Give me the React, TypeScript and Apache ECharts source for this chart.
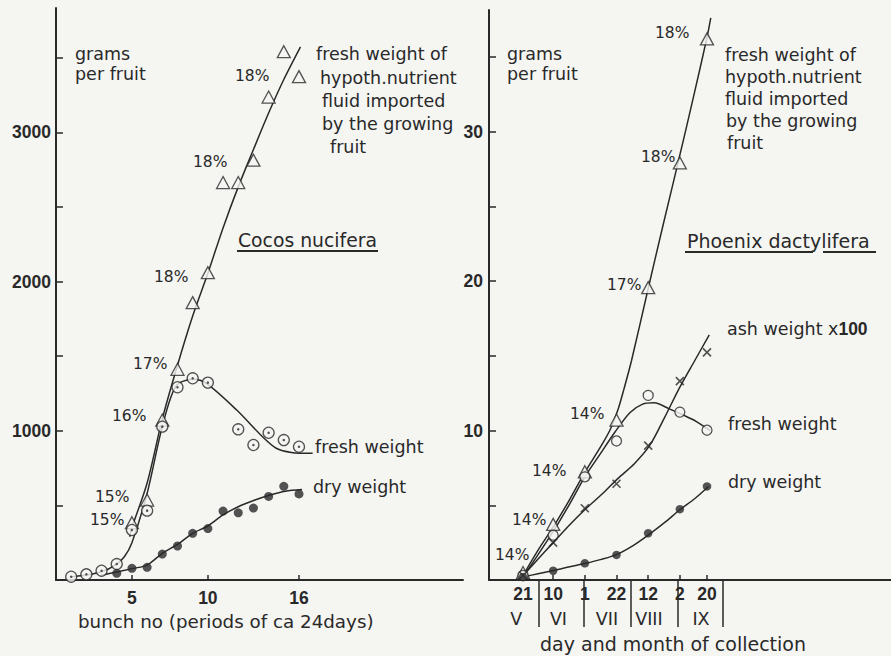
import React, { useEffect, useRef } from "react";
import * as echarts from "echarts";

// ---------- Cocos nucifera (left panel), x = bunch no, y = grams per fruit ----------
const cocosFluid: number[][] = [
  [5, 384], [6, 536], [7, 1072], [8, 1412], [9, 1859], [10, 2060],
  [11, 2664], [12, 2664], [13, 2814], [14, 3237], [15, 3541], [16, 3374],
];
const cocosFresh: number[][] = [
  [1, 22], [2, 38], [3, 62], [4, 107], [5, 335], [6, 465], [7, 1028], [8, 1292],
  [9, 1352], [10, 1323], [12, 1010], [13, 905], [14, 987], [15, 938], [16, 893],
];
const cocosDry: number[][] = [
  [4, 45], [5, 78], [6, 85], [7, 174], [8, 228], [9, 313], [10, 345],
  [11, 462], [12, 450], [13, 482], [14, 560], [15, 628], [16, 577],
];
// fitted curves drawn by the author
const cocosFluidCurve: number[][] = [
  [4.85, 290], [5, 350], [6, 650], [7, 1080], [8, 1440], [9, 1770], [10, 2056], [11, 2360],
  [12, 2635], [13, 2885], [14, 3130], [15, 3355], [16.1, 3574],
];
const cocosFreshCurve: number[][] = [
  [1, 22], [2, 33], [3, 55], [3.9, 100], [4.5, 156], [5, 250], [6, 581], [7, 1028],
  [7.9, 1300], [9, 1345], [9.9, 1318], [11.9, 1139], [13.6, 960], [14.5, 883], [15.5, 855], [16.9, 849],
];
const cocosDryCurve: number[][] = [
  [2.9, 30], [5.1, 78], [6, 100], [7, 179], [8, 238], [9, 313], [10, 362], [11, 436],
  [12, 491], [13.1, 536], [14.1, 570], [15.1, 595], [16.2, 606],
];
const cocosXTicks = [5, 10, 16];
const cocosYTicks = [500, 1000, 1500, 2000, 2500, 3000, 3500];
const cocosYLabels = [1000, 2000, 3000];
const cocosPct = ["18%", "18%", "18%", "17%", "16%", "15%", "15%"];

// ---------- Phoenix dactylifera (right panel), x = day of year ----------
const dateDays = [141, 161, 182, 203, 224, 245, 263];
const dateLabels = ["21", "10", "1", "22", "12", "2", "20"];
const monthBounds = [151.5, 181.5, 212.5, 243.5, 273.5];
const monthLabelAt = [136.5, 164.5, 196.7, 224.5, 259];
const monthNames = ["V", "VI", "VII", "VIII", "IX"];
const phoenixFluid = [0.5, 3.72, 7.24, 10.7, 19.56, 27.9, 36.2];
const phoenixFresh = [0.3, 3.0, 6.9, 9.3, 12.35, 11.23, 10.02];
const phoenixAsh = [0.3, 2.5, 4.8, 6.44, 8.99, 13.3, 15.23];
const phoenixDry = [0.2, 0.62, 1.12, 1.68, 3.13, 4.74, 6.26];
const phoenixFluidCurve: number[][] = [
  [141, 0.3], [151, 2.0], [162, 3.7], [172, 5.4], [182, 7.2], [193, 9.0], [199, 10.1],
  [204, 11.4], [208, 12.8], [213, 14.7], [224, 19.5], [234, 23.8], [244, 28.0],
  [254, 32.3], [263, 36.3], [265.5, 37.6],
];
const phoenixFreshCurve: number[][] = [
  [141, 0.2], [151, 1.7], [162, 3.4], [172, 5.1], [182, 6.9], [192, 8.4], [202, 9.9],
  [212, 11.2], [220, 11.75], [228, 11.85], [238, 11.45], [248, 11.0], [256, 10.6], [265, 10.0],
];
const phoenixAshCurve: number[][] = [
  [141, 0.3], [151, 1.4], [161, 2.5], [172, 3.7], [183, 4.8], [194, 5.8], [204, 6.8],
  [215, 7.8], [225, 9.0], [235, 10.9], [245, 12.9], [255, 14.7], [264.5, 16.4],
];
const phoenixDryCurve: number[][] = [
  [141, 0.2], [151, 0.42], [162, 0.65], [172, 0.88], [182, 1.1], [193, 1.38], [203, 1.7],
  [214, 2.3], [224, 3.0], [235, 3.85], [245, 4.7], [255, 5.45], [264, 6.25],
];
const phoenixYTicks = [5, 10, 15, 20, 25, 30, 35];
const phoenixYLabels = [10, 20, 30];
const phoenixPct = ["14%", "14%", "14%", "14%", "17%", "18%", "18%"];

const INK = "#292929";
const BG = "#f5f5f2";
const FONT = "DejaVu Sans";

export default function App() {
  const ref = useRef<HTMLDivElement>(null);
  useEffect(() => {
    document.body.style.margin = "0";
    const chart = echarts.init(ref.current!, null, { renderer: "svg" });
    const zip = (ys: number[]) => ys.map((v, i) => [dateDays[i], v]);

    const curve = (x: number, y: number, data: number[][]) => ({
      type: "line", xAxisIndex: x, yAxisIndex: y, data, smooth: 0.3,
      showSymbol: false, symbol: "none", lineStyle: { color: INK, width: 1.5 }, z: 2,
    });
    const tri = (x: number, y: number, data: number[][]) => ({
      type: "scatter", xAxisIndex: x, yAxisIndex: y, data, symbol: "triangle",
      symbolSize: [13, 12], itemStyle: { color: BG, borderColor: INK, borderWidth: 1.3 }, z: 4,
    });
    const ring = (x: number, y: number, data: number[][], s: number) => ({
      type: "scatter", xAxisIndex: x, yAxisIndex: y, data, symbol: "circle",
      symbolSize: s, itemStyle: { color: BG, borderColor: INK, borderWidth: 1.3 }, z: 5,
    });
    const dot = (x: number, y: number, data: number[][], s: number) => ({
      type: "scatter", xAxisIndex: x, yAxisIndex: y, data, symbol: "circle",
      symbolSize: s, itemStyle: { color: INK }, z: 6,
    });

    const txt = (text: string, x: number, y: number, size = 17.5, extra: any = {}) => ({
      type: "text", x, y, z: 10,
      style: { text, fill: INK, fontSize: size, fontFamily: FONT, verticalAlign: "middle", ...extra },
    });
    const uline = (x1: number, x2: number, y: number) => ({
      type: "line", z: 10, shape: { x1, y1: y, x2, y2: y }, style: { stroke: INK, lineWidth: 2 },
    });

    const leftPctPos = [[235, 76], [193, 162], [154, 277], [133, 364], [112, 416], [95, 497], [90, 520]];
    const rightPctPos = [[655, 33], [641, 157], [607, 285], [570, 414], [532, 471], [512, 520], [495, 555]];
    const rightPctOrdered = [phoenixPct[6], phoenixPct[5], phoenixPct[4], phoenixPct[3], phoenixPct[2], phoenixPct[1], phoenixPct[0]];

    const axisNum = { color: INK, fontWeight: "bold", fontSize: 17.5, fontFamily: "Liberation Sans", formatter: (v: number) => String(v) };

    chart.setOption({
      animation: false,
      backgroundColor: BG,
      grid: [
        { left: 56, top: 8, width: 407, height: 572 },
        { left: 489, top: 10, width: 402, height: 570 },
      ],
      xAxis: [
        {
          gridIndex: 0, type: "value", min: 0, max: 26.8,
          axisLine: { lineStyle: { color: INK, width: 2 } },
          axisTick: { inside: true, length: 5, customValues: cocosXTicks, lineStyle: { color: INK, width: 1.5 } },
          axisLabel: { ...axisNum, customValues: cocosXTicks, margin: 9 },
          splitLine: { show: false },
        },
        {
          gridIndex: 1, type: "value", min: 118.45, max: 385,
          axisLine: { onZero: false, lineStyle: { color: INK, width: 2 } },
          axisTick: { inside: true, length: 5, customValues: dateDays, lineStyle: { color: INK, width: 1.5 } },
          axisLabel: {
            ...axisNum, customValues: dateDays, margin: 5,
            formatter: (v: number) => { const i = dateDays.findIndex((d) => Math.abs(d - v) < 0.01); return i >= 0 ? dateLabels[i] : ""; },
          },
          splitLine: { show: false },
        },
        {
          gridIndex: 1, type: "value", min: 118.45, max: 385, position: "bottom",
          axisLine: { show: false, onZero: false },
          axisTick: { inside: false, length: 47, customValues: monthBounds, lineStyle: { color: INK, width: 1.5 } },
          axisLabel: {
            color: INK, fontSize: 17.5, fontFamily: FONT, customValues: monthLabelAt, margin: 30,
            formatter: (v: number) => { const i = monthLabelAt.findIndex((d) => Math.abs(d - v) < 0.01); return i >= 0 ? monthNames[i] : ""; },
          },
          splitLine: { show: false },
        },
      ],
      yAxis: [
        {
          gridIndex: 0, type: "value", min: 0, max: 3834,
          axisLine: { show: true, lineStyle: { color: INK, width: 2 } },
          axisTick: { show: true, inside: true, length: 7, customValues: cocosYTicks, lineStyle: { color: INK, width: 1.5 } },
          axisLabel: { ...axisNum, customValues: cocosYLabels, margin: 5 },
          splitLine: { show: false },
        },
        {
          gridIndex: 1, type: "value", min: 0, max: 38.13,
          axisLine: { show: true, lineStyle: { color: INK, width: 2 } },
          axisTick: { show: true, inside: true, length: 7, customValues: phoenixYTicks, lineStyle: { color: INK, width: 1.5 } },
          axisLabel: { ...axisNum, customValues: phoenixYLabels, margin: 6 },
          splitLine: { show: false },
        },
      ],
      series: [
        curve(0, 0, cocosFluidCurve),
        curve(0, 0, cocosFreshCurve),
        curve(0, 0, cocosDryCurve),
        tri(0, 0, cocosFluid),
        ring(0, 0, cocosFresh, 11),
        dot(0, 0, cocosFresh, 2.5),
        dot(0, 0, cocosDry, 9),
        curve(1, 1, phoenixFluidCurve),
        curve(1, 1, phoenixFreshCurve),
        curve(1, 1, phoenixAshCurve),
        curve(1, 1, phoenixDryCurve),
        tri(1, 1, zip(phoenixFluid)),
        ring(1, 1, zip(phoenixFresh), 10),
        {
          type: "scatter", xAxisIndex: 1, yAxisIndex: 1, data: zip(phoenixAsh),
          symbol: "path://M0,0L10,10M10,0L0,10", symbolSize: 8,
          itemStyle: { color: "none", borderColor: INK, borderWidth: 1.6 }, z: 5,
        },
        dot(1, 1, zip(phoenixDry), 8.5),
      ],
      graphic: [
        // left panel
        txt("grams", 75, 54), txt("per fruit", 75, 74),
        txt("fresh weight of", 316, 54), txt("hypoth.nutrient", 320, 78), txt("fluid imported", 322, 101),
        txt("by the growing", 322, 124), txt("fruit", 330, 147),
        txt("Cocos nucifera", 238, 240, 18.8), uline(237, 378, 251),
        txt("fresh weight", 315, 447), txt("dry weight", 313, 487),
        txt("bunch no (periods of ca 24days)", 78, 621, 18.3),
        ...cocosPct.map((p, i) => txt(p, leftPctPos[i][0], leftPctPos[i][1], 15.5)),
        // right panel
        txt("grams", 507, 54), txt("per fruit", 507, 74),
        txt("fresh weight of", 725, 55), txt("hypoth.nutrient", 725, 77), txt("fluid imported", 725, 99),
        txt("by the growing", 726, 121), txt("fruit", 727, 143),
        txt("Phoenix dactylifera", 687, 241, 19), uline(685, 813, 252), uline(823, 876, 252),
        {
          type: "text", x: 727, y: 329, z: 10,
          style: {
            text: "ash weight x{b|100}", fill: INK, fontSize: 17.5, fontFamily: FONT, verticalAlign: "middle",
            rich: { b: { fontWeight: "bold", fontSize: 17.5, fontFamily: "Liberation Sans", fill: INK } },
          },
        },
        txt("fresh weight", 728, 424), txt("dry weight", 728, 482),
        txt("day and month of collection", 540, 644, 19),
        ...rightPctOrdered.map((p, i) => txt(p, rightPctPos[i][0], rightPctPos[i][1], 15.5)),
      ],
    });
    return () => chart.dispose();
  }, []);
  return <div ref={ref} style={{ width: 891, height: 656 }} />;
}
